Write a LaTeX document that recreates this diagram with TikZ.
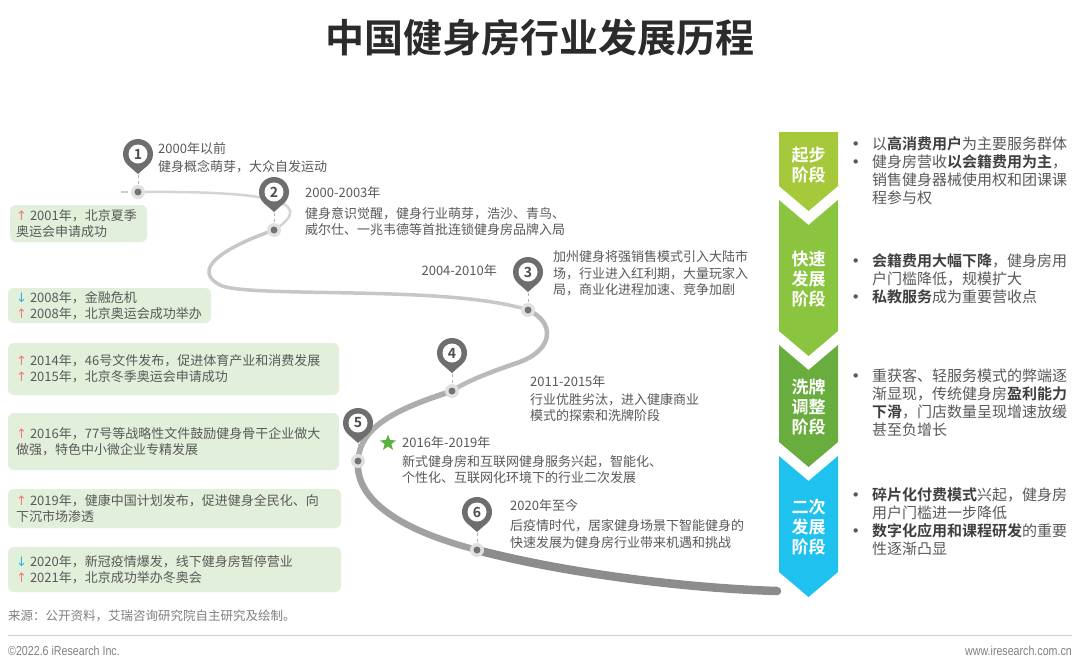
\documentclass[tikz,border=0pt]{standalone}
\usepackage{fontspec}
\setmainfont{Noto Sans CJK SC}[BoldFont={Noto Sans CJK SC Bold}]
\newfontfamily\symfont{DejaVu Sans}
\newfontfamily\footfont{Liberation Sans}[FakeStretch=0.82]
\usetikzlibrary{shapes.geometric}
\definecolor{txtgray}{HTML}{595959}
\definecolor{boldgray}{HTML}{3F3F3F}
\definecolor{titlegray}{HTML}{2B2B2B}
\definecolor{boxgreen}{HTML}{E2EFDA}
\definecolor{upred}{HTML}{F07C78}
\definecolor{downblue}{HTML}{2BB5E9}
\definecolor{pingray}{HTML}{6E6E6E}
\definecolor{stargreen}{HTML}{5DB13B}
\definecolor{stageA}{HTML}{A5C93A}
\definecolor{stageB}{HTML}{8BC53F}
\definecolor{stageC}{HTML}{6AAD3F}
\definecolor{stageD}{HTML}{1FC1EF}
\tikzset{
  evbox/.style={fill=boxgreen, rounded corners=6pt},
  evtext/.style={anchor=west, align=left, inner sep=0pt, text=txtgray,
    font=\fontsize{13}{16}\selectfont},
  pintext/.style={anchor=west, align=left, inner sep=0pt, text=txtgray,
    font=\fontsize{13}{16.5}\selectfont},
  stagetext/.style={align=center, inner sep=0pt, text=white,
    font=\bfseries\fontsize{17}{20}\selectfont},
  bultext/.style={anchor=west, align=left, inner sep=0pt, text=txtgray,
    font=\fontsize{15}{18}\selectfont},
  road/.style={line cap=round},
}
\begin{document}
\begin{tikzpicture}[x=1pt,y=-1pt]
\useasboundingbox (0,0) rectangle (1080,670);
\fill[white] (0,0) rectangle (1080,670);

% title
\node[font=\bfseries\fontsize{39}{46}\selectfont, text=titlegray] (title) at (540,38) {中国健身房行业发展历程};

% road through the six stops
\foreach \x/\y/\n in {138/154/1, 274/192/2, 528/272/3, 452/353/4, 358/423/5, 477/512/6}
  \coordinate (d\n) at (\x,{\y+38});
\coordinate (roadend) at (777,591);
\draw[gray!40, line width=1.5pt] (121,192) -- (128,192);
\draw[road, line width=2.5pt, draw=black!17] (d1) .. controls (250,191) and (325,198) .. (d2);
\draw[road, line width=3.5pt, draw=black!22] (d2) .. controls (220,249) and (190,271) .. (222,286)
  .. controls (260,298) and (450,285) .. (d3);
\draw[road, line width=4.5pt, draw=black!27] (d3) .. controls (555,322) and (555,350) .. (517,363)
  .. controls (490,372) and (465,382) .. (d4);
\draw[road, line width=5.5pt, draw=black!32] (d4) .. controls (400,408) and (360,425) .. (d5);
\draw[road, line width=6.5pt, draw=black!37] (d5) .. controls (355,500) and (400,530) .. (d6);
\draw[road, line width=8.5pt, draw=black!45] (d6) .. controls (560,572) and (680,588) .. (roadend);

% stops and pins
\foreach \x/\y/\n in {138/154/1, 274/192/2, 528/272/3, 452/353/4, 358/423/5, 477/512/6}{
  \draw[gray!60, line width=0.7pt, dash pattern=on 3pt off 3pt] (\x,{\y+21}) -- (\x,{\y+31});
  \fill[black!12] (d\n) circle (7pt);
  \fill[black!55] (d\n) circle (3.5pt);
  \fill[pingray] (\x,\y) circle (15pt);
  \fill[pingray] ({\x-9.9},{\y+11.25}) -- ({\x+9.9},{\y+11.25}) -- (\x,{\y+20}) -- cycle;
  \fill[white] (\x,\y) circle (9.5pt);
  \node[font=\bfseries\fontsize{14}{14}\selectfont, text=black!70, inner sep=0pt] (pin\n) at (\x,\y) {\n};
}

% stop texts
\node[pintext] (y1) at (158,149) {2000年以前};
\node[pintext] (t1) at (158,167) {健身概念萌芽，大众自发运动};
\node[pintext] (y2) at (305,193) {2000-2003年};
\node[pintext] (t2) at (305,221.5) {健身意识觉醒，健身行业萌芽，浩沙、青鸟、\\威尔仕、一兆韦德等首批连锁健身房品牌入局};
\node[pintext, anchor=east] (y3) at (497,271) {2004-2010年};
\node[pintext] (t3) at (553,273.5) {加州健身将强销售模式引入大陆市\\场，行业进入红利期，大量玩家入\\局，商业化进程加速、竞争加剧};
\node[pintext] (y4) at (530,382) {2011-2015年};
\node[pintext] (t4) at (530,407.5) {行业优胜劣汰，进入健康商业\\模式的探索和洗牌阶段};
\node[star, star points=5, star point ratio=2.4, fill=stargreen, minimum size=17pt, inner sep=0pt] (star5) at (388,443) {};
\node[pintext] (y5) at (402,443) {2016年-2019年};
\node[pintext] (t5) at (402,469.5) {新式健身房和互联网健身服务兴起，智能化、\\个性化、互联网化环境下的行业二次发展};
\node[pintext] (y6) at (510,506) {2020年至今};
\node[pintext] (t6) at (510,534) {后疫情时代，居家健身场景下智能健身的\\快速发展为健身房行业带来机遇和挑战};

% events on the left
\fill[evbox] (10,205) rectangle (147,242);
\node[evtext] (ev1) at (16,223.5) {{\symfont\color{upred}↑} 2001年，北京夏季\\奥运会申请成功};
\fill[evbox] (8,288) rectangle (211,323);
\node[evtext] (ev2) at (16,305.5) {{\symfont\color{downblue}↓} 2008年，金融危机\\{\symfont\color{upred}↑} 2008年，北京奥运会成功举办};
\fill[evbox] (8,343) rectangle (339,395);
\node[evtext] (ev3) at (16,369) {{\symfont\color{upred}↑} 2014年，46号文件发布，促进体育产业和消费发展\\{\symfont\color{upred}↑} 2015年，北京冬季奥运会申请成功};
\fill[evbox] (8,413) rectangle (339,470);
\node[evtext] (ev4) at (16,441.5) {{\symfont\color{upred}↑} 2016年，77号等战略性文件鼓励健身骨干企业做大\\做强，特色中小微企业专精发展};
\fill[evbox] (8,489) rectangle (341,528);
\node[evtext] (ev5) at (16,508.5) {{\symfont\color{upred}↑} 2019年，健康中国计划发布，促进健身全民化、向\\下沉市场渗透};
\fill[evbox] (8,547) rectangle (341,592);
\node[evtext] (ev6) at (16,569.5) {{\symfont\color{downblue}↓} 2020年，新冠疫情爆发，线下健身房暂停营业\\{\symfont\color{upred}↑} 2021年，北京成功举办冬奥会};

% stages on the right
\fill[stageA] (779,132) -- (838,132) -- (838,186) -- (808.5,211) -- (779,186) -- cycle;
\fill[stageB] (779,200) -- (808.5,225) -- (838,200) -- (838,331) -- (808.5,356) -- (779,331) -- cycle;
\fill[stageC] (779,345) -- (808.5,370) -- (838,345) -- (838,442) -- (808.5,467) -- (779,442) -- cycle;
\fill[stageD] (779,456) -- (808.5,481) -- (838,456) -- (838,572) -- (808.5,597) -- (779,572) -- cycle;
\node[stagetext] (s1) at (808.5,165) {起步\\阶段};
\node[stagetext] (s2) at (808.5,279) {快速\\发展\\阶段};
\node[stagetext] (s3) at (808.5,407) {洗牌\\调整\\阶段};
\node[stagetext] (s4) at (808.5,527) {二次\\发展\\阶段};

\node[bultext] (b11) at (872,144) {\llap{{\symfont •}\hspace{12pt}}以\textbf{\color{boldgray}高消费用户}为主要服务群体};
\node[bultext] (b12) at (872,180) {\llap{{\symfont •}\hspace{12pt}}健身房营收\textbf{\color{boldgray}以会籍费用为主}，\\销售健身器械使用权和团课课\\程参与权};
\node[bultext] (b21) at (872,270) {\llap{{\symfont •}\hspace{12pt}}\textbf{\color{boldgray}会籍费用大幅下降}，健身房用\\户门槛降低，规模扩大};
\node[bultext] (b22) at (872,297) {\llap{{\symfont •}\hspace{12pt}}\textbf{\color{boldgray}私教服务}成为重要营收点};
\node[bultext] (b31) at (872,402.5) {\llap{{\symfont •}\hspace{12pt}}重获客、轻服务模式的弊端逐\\渐显现，传统健身房\textbf{\color{boldgray}盈利能力}\\\textbf{\color{boldgray}下滑}，门店数量呈现增速放缓\\甚至负增长};
\node[bultext] (b41) at (872,504) {\llap{{\symfont •}\hspace{12pt}}\textbf{\color{boldgray}碎片化付费模式}兴起，健身房\\用户门槛进一步降低};
\node[bultext] (b42) at (872,540) {\llap{{\symfont •}\hspace{12pt}}\textbf{\color{boldgray}数字化应用和课程研发}的重要\\性逐渐凸显};

% source and footer
\node[anchor=west, inner sep=0pt, text=black!50, font=\fontsize{12.5}{14}\selectfont] (src) at (8,616) {来源：公开资料，艾瑞咨询研究院自主研究及绘制。};
\draw[black!18, line width=1pt] (8,635) -- (1072,635);
\node[anchor=west, inner sep=0pt, text=black!50, font=\footfont\fontsize{13}{14}\selectfont] (copy) at (8,651) {©2022.6 iResearch Inc.};
\node[anchor=east, inner sep=0pt, text=black!50, font=\footfont\fontsize{13}{14}\selectfont] (web) at (1072,651) {www.iresearch.com.cn};
\end{tikzpicture}
\end{document}
